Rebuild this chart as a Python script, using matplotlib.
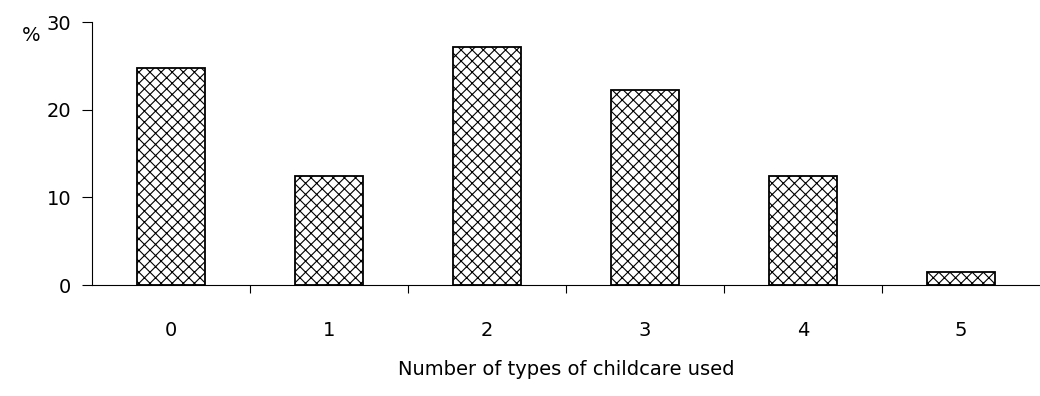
import numpy as np
import matplotlib.pyplot as plt

# share of families by number of childcare types used
categories = ["0", "1", "2", "3", "4", "5"]
percent = [24.7, 12.4, 27.2, 22.3, 12.4, 1.5]

plt.rcParams['font.family'] = ['DejaVu Sans']
plt.rcParams['hatch.linewidth'] = 0.8

fig = plt.figure(figsize=(10.4, 3.96), dpi=100)
ax = fig.add_axes([0.0885, 0.2803, 0.9115, 0.6641])

x = np.arange(len(categories))
ax.bar(x, percent, width=0.43, color='white', edgecolor='black',
       linewidth=1.3, hatch='xxx')

ax.set_xlim(-0.5, len(categories) - 0.5)
ax.set_ylim(0, 30)
ax.set_yticks([0, 10, 20, 30])

# category labels without ticks, ticks drawn between categories
ax.set_xticks(x)
ax.set_xticklabels(categories)
ax.set_xticks(np.arange(0.5, len(categories) - 0.5), minor=True)
ax.tick_params(axis='x', which='major', length=0, pad=26, labelsize=14)
ax.tick_params(axis='x', which='minor', length=6, direction='out', width=0.8)
ax.tick_params(axis='y', length=7, direction='out', width=0.8, labelsize=14, pad=8)

ax.spines['top'].set_visible(False)
ax.spines['right'].set_visible(False)
ax.spines['left'].set_linewidth(0.8)
ax.spines['bottom'].set_linewidth(0.8)

ax.set_xlabel("Number of types of childcare used", fontsize=14, labelpad=14)
fig.text(0.021, 0.91, "%", fontsize=14, ha='left', va='center')

fig.savefig("out.png", dpi=100)
